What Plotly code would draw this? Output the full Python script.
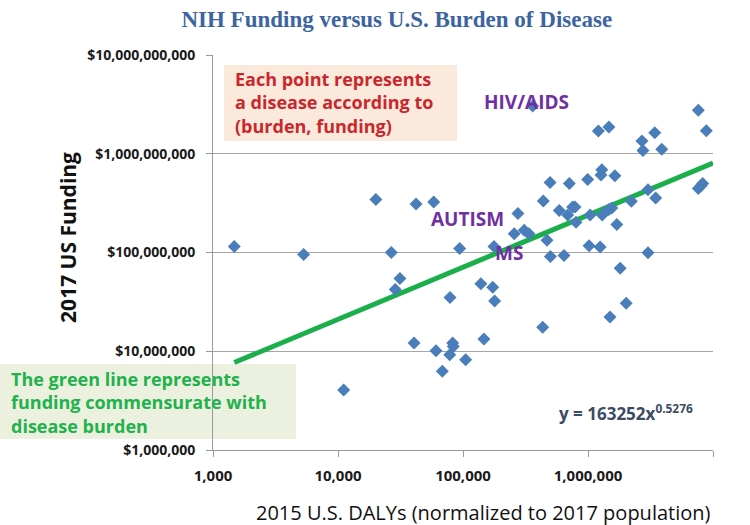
import numpy as np
import plotly.graph_objects as go

# 2015 U.S. DALYs (normalized to 2017 population)
dalys = [1480, 5310, 20100, 42100, 58300, 26700, 94100, 31300, 28700, 78700,
         139000, 40600, 60800, 82700, 83600, 78300, 105000, 68300, 147000, 11100,
         361000, 7630000, 8840000, 1210000, 1470000, 2700000, 3420000, 2750000, 3890000, 1290000,
         1270000, 1640000, 994000, 497000, 709000, 7630000, 8020000, 8270000, 3020000, 3480000,
         2220000, 439000, 275000, 589000, 754000, 787000, 688000, 802000, 1040000, 1300000,
         1470000, 1550000, 1700000, 257000, 309000, 337000, 470000, 177000, 500000, 643000,
         1020000, 1250000, 3020000, 1810000, 173000, 179000, 2020000, 1500000, 434000]

# 2017 US funding (dollars)
funding = [115e6, 95.5e6, 345e6, 310e6, 325e6, 100e6, 110e6, 54.6e6, 42.3e6, 35.1e6,
           48.3e6, 12.1e6, 10.1e6, 12.1e6, 11.2e6, 9.22e6, 8.21e6, 6.28e6, 13.3e6, 4.06e6,
           3.05e9, 2.76e9, 1.71e9, 1.70e9, 1.87e9, 1.35e9, 1.63e9, 1.08e9, 1.11e9, 689e6,
           609e6, 600e6, 550e6, 513e6, 501e6, 446e6, 475e6, 501e6, 433e6, 357e6,
           330e6, 333e6, 248e6, 266e6, 289e6, 289e6, 240e6, 202e6, 240e6, 240e6,
           272e6, 283e6, 192e6, 155e6, 168e6, 155e6, 133e6, 115e6, 91.1e6, 93.3e6,
           117e6, 114e6, 99.3e6, 69.4e6, 44.6e6, 32.2e6, 30.7e6, 22.2e6, 17.5e6]

# Power-law trend: y = 163252 * x^0.5276
trend_coef = 163252
trend_exp = 0.5276
trend_x_end = 1e7

x_tickvals = [1e3, 1e4, 1e5, 1e6, 1e7]
x_ticktext = ["1,000", "10,000", "100,000", "1,000,000", "10,000,000"]
y_tickvals = [1e6, 1e7, 1e8, 1e9, 1e10]
y_ticktext = ["$1,000,000", "$10,000,000", "$100,000,000", "$1,000,000,000", "$10,000,000,000"]

red_lines = ["Each point represents", "a disease according to", "(burden, funding)"]
green_lines = ["The green line represents", "funding commensurate with", "disease burden"]

x_fit = np.logspace(np.log10(min(dalys)), np.log10(trend_x_end), 60)
y_fit = trend_coef * x_fit ** trend_exp

FONT = "Open Sans"

fig = go.Figure()
fig.add_trace(go.Scatter(x=x_fit, y=y_fit, mode="lines",
                         line=dict(color="#1BAF4B", width=5), hoverinfo="skip"))
fig.add_trace(go.Scatter(x=dalys, y=funding, mode="markers",
                         marker=dict(symbol="diamond", size=10, color="#4A7EBB")))

fig.update_layout(
    width=750, height=525,
    margin=dict(l=213, r=37, t=55, b=75),
    paper_bgcolor="white", plot_bgcolor="white",
    showlegend=False,
    font=dict(family=FONT, color="#1a1a1a"),
    title=dict(text="NIH Funding versus U.S. Burden of Disease",
               font=dict(family="Liberation Serif", size=23, color="#3C64A0", weight="bold"),
               x=0.529, xanchor="center", y=0.964, yanchor="middle"),
)
fig.update_xaxes(type="log", range=[3, 7], tickvals=x_tickvals, ticktext=x_ticktext,
                 showgrid=False, showline=True, linecolor="#9A9A9A", linewidth=1,
                 ticks="outside", ticklen=6, tickcolor="#9A9A9A", ticklabelstandoff=6,
                 tickfont=dict(family=FONT, size=15, color="#1a1a1a", weight="bold"),
                 zeroline=False)
fig.update_yaxes(type="log", range=[6, 10], tickvals=y_tickvals, ticktext=y_ticktext,
                 showgrid=True, gridcolor="#A6A6A6", gridwidth=1,
                 showline=True, linecolor="#9A9A9A", linewidth=1,
                 ticks="outside", ticklen=6, tickcolor="#9A9A9A", ticklabelstandoff=8,
                 tickfont=dict(family=FONT, size=14, color="#1a1a1a", weight="bold"),
                 zeroline=False)

fig.add_shape(type="rect", xref="paper", yref="paper", x0=0.022, x1=0.488, y0=0.782, y1=0.975,
              fillcolor="#FBE9DC", line=dict(width=0), layer="below")
fig.add_shape(type="rect", xref="paper", yref="paper", x0=-0.426, x1=0.166, y0=0.028, y1=0.218,
              fillcolor="#EBF1DE", line=dict(width=0), layer="below")

ann = []
ann.append(dict(text="<br>".join(red_lines), x=0.04, y=0.879, xref="paper", yref="paper",
                xanchor="left", yanchor="middle", align="left", showarrow=False,
                font=dict(family=FONT, size=18, color="#C8282D", weight="bold")))
ann.append(dict(text="<br>".join(green_lines), x=-0.408, y=0.119, xref="paper", yref="paper",
                xanchor="left", yanchor="middle", align="left", showarrow=False,
                font=dict(family=FONT, size=18, color="#22B14C", weight="bold")))
for label, px, py in [("HIV/AIDS", 0.627, 0.881), ("AUTISM", 0.508, 0.585), ("MS", 0.592, 0.499)]:
    ann.append(dict(text=label, x=px, y=py, xref="paper", yref="paper",
                    xanchor="center", yanchor="middle", showarrow=False,
                    font=dict(family=FONT, size=19, color="#7030A0", weight="bold")))
ann.append(dict(text="y = 163252x<sup>0.5276</sup>", x=0.688, y=0.094, xref="paper", yref="paper",
                xanchor="left", yanchor="middle", showarrow=False,
                font=dict(family=FONT, size=17, color="#3B4B63", weight="bold")))
ann.append(dict(text="2017 US Funding", x=-0.29, y=0.537, xref="paper", yref="paper",
                textangle=-90, xanchor="center", yanchor="middle", showarrow=False,
                font=dict(family=FONT, size=21, color="#111111", weight="bold")))
ann.append(dict(text="2015 U.S. DALYs (normalized to 2017 population)", x=0.54, y=-0.157,
                xref="paper", yref="paper", xanchor="center", yanchor="middle", showarrow=False,
                font=dict(family=FONT, size=20, color="#111111")))
fig.update_layout(annotations=ann)

fig.write_html("out.html", config={"displayModeBar": False},
               post_script="document.body.style.margin='0';")
